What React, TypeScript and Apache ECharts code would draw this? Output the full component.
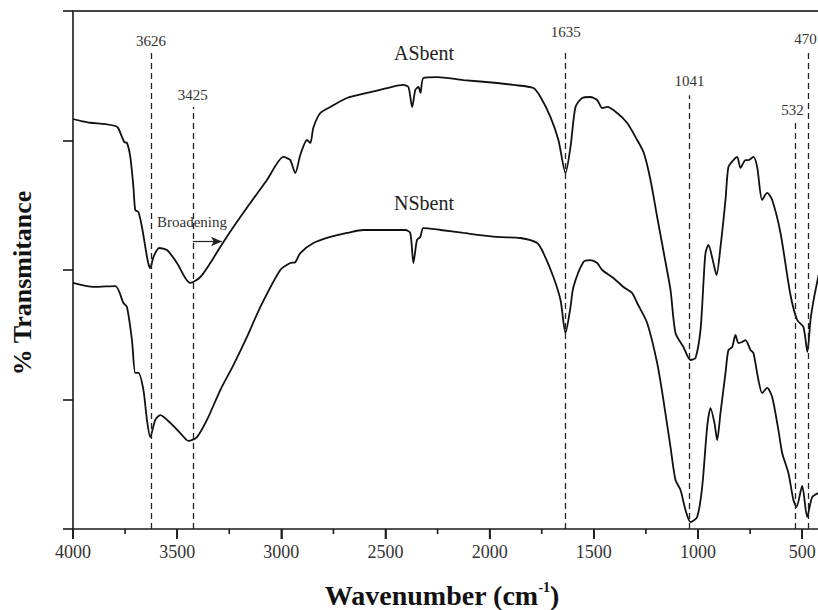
import React, { useEffect, useRef } from "react";
import * as echarts from "echarts";

// ASbent spectrum (wavenumber cm-1, relative transmittance)
const asbentWave = [
  4000, 3960, 3917, 3845, 3797, 3783, 3754, 3741, 3725, 3710,
  3701, 3686, 3669, 3653, 3639, 3629, 3614, 3586, 3549, 3501,
  3461, 3437, 3389, 3341, 3293, 3230, 3149, 3069, 2990, 2973,
  2957, 2933, 2909, 2877, 2861, 2846, 2813, 2765, 2685, 2589,
  2492, 2414, 2390, 2372, 2357, 2342, 2332, 2318, 2252, 2126,
  1964, 1886, 1790, 1756, 1708, 1670, 1636, 1612, 1588, 1556,
  1517, 1484, 1460, 1436, 1388, 1340, 1292, 1260, 1228, 1196,
  1164, 1132, 1108, 1070, 1036, 1012, 988, 973, 964, 950,
  926, 911, 892, 868, 854, 830, 812, 796, 772, 758,
  734, 716, 692, 668, 644, 604, 556, 524, 494, 475,
  460, 445, 421,
];
const asbentT = [
  3.166, 3.15, 3.137, 3.127, 3.112, 3.097, 2.988, 2.981, 2.873, 2.641,
  2.463, 2.448, 2.332, 2.178, 2.054, 2.015, 2.1, 2.17, 2.154, 2.054,
  1.938, 1.9, 1.946, 2.054, 2.178, 2.332, 2.517, 2.695, 2.873, 2.865,
  2.849, 2.749, 2.888, 3.004, 2.981, 3.1, 3.212, 3.259, 3.328, 3.367,
  3.405, 3.429, 3.413, 3.259, 3.39, 3.413, 3.367, 3.483, 3.49, 3.467,
  3.444, 3.429, 3.405, 3.336, 3.181, 3.004, 2.749, 2.95, 3.259, 3.328,
  3.336, 3.313, 3.251, 3.259, 3.212, 3.135, 3.004, 2.903, 2.695, 2.409,
  2.131, 1.846, 1.514, 1.405, 1.305, 1.32, 1.537, 1.923, 2.131, 2.193,
  2.054, 1.961, 2.178, 2.541, 2.795, 2.849, 2.873, 2.788, 2.849, 2.849,
  2.873, 2.795, 2.541, 2.595, 2.541, 2.286, 1.807, 1.614, 1.56, 1.367,
  1.614, 1.768, 1.961,
];

// NSbent spectrum
const nsbentWave = [
  4000, 3902, 3797, 3758, 3741, 3717, 3701, 3686, 3662, 3645,
  3629, 3605, 3581, 3533, 3485, 3446, 3405, 3357, 3293, 3230,
  3165, 3101, 3005, 2957, 2933, 2909, 2846, 2765, 2685, 2606,
  2510, 2405, 2381, 2366, 2349, 2333, 2318, 2236, 2126, 1964,
  1853, 1772, 1742, 1694, 1660, 1636, 1612, 1598, 1550, 1517,
  1484, 1460, 1406, 1358, 1316, 1292, 1244, 1196, 1166, 1132,
  1108, 1084, 1060, 1036, 1004, 980, 956, 940, 921, 908,
  892, 868, 854, 836, 820, 806, 788, 772, 748, 734,
  710, 692, 668, 644, 614, 596, 566, 542, 527, 500,
  476, 452, 421,
];
const nsbentT = [
  1.9, 1.869, 1.876, 1.745, 1.714, 1.459, 1.205, 1.205, 1.073, 0.842,
  0.71, 0.842, 0.88, 0.819, 0.741, 0.68, 0.71, 0.842, 1.073, 1.266,
  1.483, 1.714, 2.0, 2.054, 2.06, 2.131, 2.208, 2.255, 2.286, 2.309,
  2.309, 2.309, 2.286, 2.054, 2.232, 2.255, 2.324, 2.309, 2.286, 2.255,
  2.247, 2.208, 2.131, 1.946, 1.768, 1.514, 1.714, 1.869, 2.062, 2.077,
  2.054, 2.0, 1.938, 1.869, 1.822, 1.745, 1.591, 1.282, 0.996, 0.633,
  0.378, 0.301, 0.147, 0.054, 0.093, 0.324, 0.788, 0.934, 0.819, 0.687,
  0.896, 1.205, 1.382, 1.405, 1.498, 1.436, 1.444, 1.459, 1.382, 1.359,
  1.151, 1.05, 1.089, 1.019, 0.764, 0.587, 0.432, 0.224, 0.17, 0.332,
  0.093, 0.247, 0.278,
];

// Band markers
const bandWave = [3626, 3425, 1635, 1041, 532, 470];
const bandTop = [3.7, 3.26, 3.7, 3.35, 3.16, 3.68];
const bandLabelGap = [1, 4, 10, 7, 2, 6];
const bandLabelShift = [0, 0, 0, 0, -3, -3];

// Broadening arrow (from, to, level)
const arrowFrom = 3425;
const arrowTo = 3285;
const arrowLevel = 2.22;

// Axis ticks
const xMajorTicks = [4000, 3500, 3000, 2500, 2000, 1500, 1000, 500];
const xMinorTicks = [3750, 3250, 2750, 2250, 1750, 1250, 750];
const xRange = { min: 400, max: 4000 };
const yTicks = { min: 0, max: 4, interval: 1 };

const SERIF = "'Liberation Serif', 'DejaVu Serif', serif";
const AXIS_COLOR = "#1a1a1a";

export default function App() {
  const ref = useRef<HTMLDivElement>(null);

  useEffect(() => {
    if (!ref.current) return;
    const chart = echarts.init(ref.current, null, { renderer: "svg" });

    const asData = asbentWave.map((w, i) => [w, asbentT[i]]);
    const nsData = nsbentWave.map((w, i) => [w, nsbentT[i]]);

    const bandLines = bandWave.map((w, i) => [
      {
        coord: [w, 0],
        name: String(w),
      },
      {
        coord: [w, bandTop[i]],
        label: {
          distance: bandLabelGap[i],
          offset: [bandLabelShift[i], 0],
        },
      },
    ]);

    const lineStyle = { color: "#111", width: 1.8 };

    const baseGraphics: any[] = [
      {
        type: "text",
        x: 22,
        y: 283,
        rotation: Math.PI / 2,
        style: {
          text: "% Transmitance",
          font: `bold 26px ${SERIF}`,
          fill: "#111",
          align: "center",
          verticalAlign: "middle",
        },
      },
      {
        type: "text",
        x: 442,
        y: 595,
        style: {
          text: "{a|Wavenumber (cm}{s|-1}{a|)}",
          align: "center",
          verticalAlign: "middle",
          rich: {
            a: { fontFamily: SERIF, fontWeight: "bold", fontSize: 28, lineHeight: 30, fill: "#111" },
            s: {
              fontFamily: SERIF,
              fontWeight: "bold",
              fontSize: 14,
              lineHeight: 14,
              verticalAlign: "top",
              fill: "#111",
            },
          },
        },
      },
      {
        type: "text",
        x: 424,
        y: 53,
        style: {
          text: "ASbent",
          font: `20px ${SERIF}`,
          fill: "#222",
          align: "center",
          verticalAlign: "middle",
        },
      },
      {
        type: "text",
        x: 424,
        y: 203,
        style: {
          text: "NSbent",
          font: `20px ${SERIF}`,
          fill: "#222",
          align: "center",
          verticalAlign: "middle",
        },
      },
      {
        type: "text",
        x: 192,
        y: 222,
        style: {
          text: "Broadening",
          font: `15px ${SERIF}`,
          fill: "#333",
          align: "center",
          verticalAlign: "middle",
        },
      },
    ];

    chart.setOption({
      animation: false,
      backgroundColor: "#fff",
      grid: {
        left: 73,
        top: 11,
        width: 750,
        height: 518,
        containLabel: false,
        outerBoundsMode: "none",
      },
      xAxis: [
        {
          type: "value",
          inverse: true,
          min: xRange.min,
          max: xRange.max,
          axisLine: { show: true, onZero: false, lineStyle: { color: AXIS_COLOR, width: 1.6 } },
          axisTick: {
            show: true,
            length: 10,
            inside: false,
            customValues: xMajorTicks,
            lineStyle: { color: AXIS_COLOR, width: 1.6 },
          },
          axisLabel: {
            show: true,
            margin: 14,
            fontFamily: SERIF,
            fontSize: 18,
            color: "#333",
            customValues: xMajorTicks,
            formatter: (v: number) => String(v),
          },
          splitLine: { show: false },
        },
        {
          type: "value",
          position: "top",
          inverse: true,
          min: xRange.min,
          max: xRange.max,
          axisLine: { show: true, onZero: false, lineStyle: { color: "#444", width: 1.8 } },
          axisTick: { show: false },
          axisLabel: { show: false },
          splitLine: { show: false },
        },
      ],
      yAxis: {
        type: "value",
        position: "left",
        min: yTicks.min,
        max: yTicks.max,
        interval: yTicks.interval,
        axisLine: { show: true, onZero: false, lineStyle: { color: AXIS_COLOR, width: 1.6 } },
        axisTick: { show: true, length: 10, inside: false, lineStyle: { color: AXIS_COLOR, width: 1.6 } },
        axisLabel: { show: false },
        splitLine: { show: false },
      },
      series: [
        {
          name: "ASbent",
          type: "line",
          data: asData,
          showSymbol: false,
          smooth: 0.25,
          lineStyle,
          z: 3,
        },
        {
          name: "NSbent",
          type: "line",
          data: nsData,
          showSymbol: false,
          smooth: 0.25,
          lineStyle,
          z: 3,
        },
        {
          name: "bands",
          type: "line",
          data: [],
          markLine: {
            silent: true,
            symbol: ["none", "none"],
            lineStyle: { color: "#222", width: 1.3, type: [6, 4] },
            label: {
              show: true,
              position: "end",
              formatter: "{b}",
              fontFamily: SERIF,
              fontSize: 15,
              color: "#333",
            },
            data: bandLines,
          },
        },
        {
          name: "arrow",
          type: "line",
          data: [],
          markLine: {
            silent: true,
            symbol: ["none", "arrow"],
            symbolSize: [7, 11],
            lineStyle: { color: "#222", width: 1.2, type: "solid" },
            label: { show: false },
            data: [[{ coord: [arrowFrom, arrowLevel] }, { coord: [arrowTo, arrowLevel] }]],
          },
        },
      ],
      graphic: baseGraphics,
    });

    // x-axis tick marks, placed through the axis scale
    const y0 = Number(chart.convertToPixel({ yAxisIndex: 0 }, yTicks.min));
    const mkTick = (v: number, len: number) => {
      const px = Number(chart.convertToPixel({ xAxisIndex: 0 }, v));
      return {
        type: "line",
        silent: true,
        z: 10,
        shape: { x1: px, y1: y0, x2: px, y2: y0 + len },
        style: { stroke: AXIS_COLOR, lineWidth: 1.6 },
      };
    };
    if (isFinite(y0)) {
      const tickGraphics = [
        ...xMajorTicks.map((v) => mkTick(v, 10)),
        ...xMinorTicks.map((v) => mkTick(v, 5)),
      ];
      chart.setOption({ graphic: baseGraphics.concat(tickGraphics) });
    }

    return () => chart.dispose();
  }, []);

  return (
    <div
      ref={ref}
      style={{ position: "fixed", left: 0, top: 0, width: 818, height: 610, overflow: "hidden" }}
    />
  );
}
